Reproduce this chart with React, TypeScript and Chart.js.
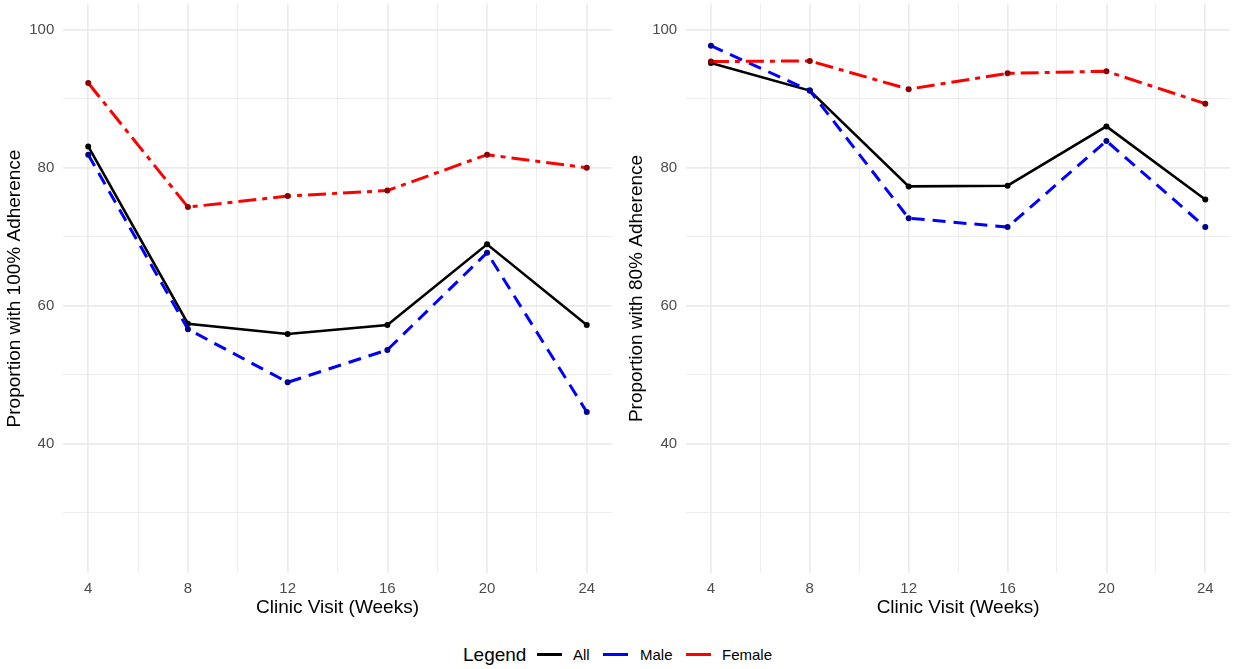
import React, { useEffect, useRef } from "react";
import { Chart, registerables } from "chart.js";

Chart.register(...registerables);

// ---- Data ----
const weeks = [4, 8, 12, 16, 20, 24];
const seriesNames = ["All", "Male", "Female"];

const adh100All = [83.1, 57.4, 55.9, 57.2, 68.9, 57.2];
const adh100Male = [81.9, 56.6, 48.9, 53.6, 67.7, 44.6];
const adh100Female = [92.3, 74.3, 75.9, 76.7, 81.9, 80.0];

const adh80All = [95.2, 91.2, 77.3, 77.4, 86.0, 75.4];
const adh80Male = [97.7, 91.2, 72.7, 71.4, 83.9, 71.4];
const adh80Female = [95.4, 95.5, 91.4, 93.7, 94.0, 89.3];

const xGridTicks = [4, 6, 8, 10, 12, 14, 16, 18, 20, 22, 24];
const xLabelTicks = [4, 8, 12, 16, 20, 24];
const yGridTicks = [30, 40, 50, 60, 70, 80, 90, 100];
const yLabelTicks = [40, 60, 80, 100];

const FONT = '"Liberation Sans", Arial, Helvetica, sans-serif';
const H = 630;
const AREA_BOTTOM = 573;

type PanelProps = {
  all: number[];
  male: number[];
  female: number[];
  yTitle: string;
  width: number;
  areaLeft: number;
  areaRight: number;
  titleX: number;
};

function Panel({ all, male, female, yTitle, width, areaLeft, areaRight, titleX }: PanelProps) {
  const ref = useRef<HTMLCanvasElement | null>(null);

  useEffect(() => {
    if (!ref.current) return;
    const toPts = (arr: number[]) => weeks.map((w, i) => ({ x: w, y: arr[i] }));
    const chart = new Chart(ref.current, {
      type: "line",
      data: {
        datasets: [
          {
            label: seriesNames[0],
            data: toPts(all),
            borderColor: "#000000",
            backgroundColor: "#000000",
            pointBackgroundColor: "#000000",
            pointBorderColor: "#000000",
            borderWidth: 2.6,
            pointRadius: 3,
            pointBorderWidth: 0,
            tension: 0,
            order: 3,
          },
          {
            label: seriesNames[1],
            data: toPts(male),
            borderColor: "#0000FF",
            backgroundColor: "#00008B",
            pointBackgroundColor: "#00008B",
            pointBorderColor: "#00008B",
            borderWidth: 3,
            borderDash: [13, 8],
            pointRadius: 3,
            pointBorderWidth: 0,
            tension: 0,
            order: 2,
          },
          {
            label: seriesNames[2],
            data: toPts(female),
            borderColor: "#FF0000",
            backgroundColor: "#8B0000",
            pointBackgroundColor: "#8B0000",
            pointBorderColor: "#8B0000",
            borderWidth: 3,
            borderDash: [18, 6, 5, 6],
            pointRadius: 3,
            pointBorderWidth: 0,
            tension: 0,
            order: 1,
          },
        ],
      },
      options: {
        animation: false,
        responsive: false,
        maintainAspectRatio: false,
        devicePixelRatio: 1,
        layout: { padding: { left: 0, top: 4, right: width - areaRight, bottom: 0 } },
        plugins: {
          legend: { display: false },
          tooltip: { enabled: false },
        },
        scales: {
          x: {
            type: "linear",
            min: 3,
            max: 25,
            afterBuildTicks: (s: any) => {
              s.ticks = xGridTicks.map((v) => ({ value: v }));
            },
            afterFit: (s: any) => {
              s.height = H - AREA_BOTTOM;
              s.paddingLeft = 0;
              s.paddingRight = 0;
            },
            ticks: {
              autoSkip: false,
              maxRotation: 0,
              padding: 7,
              color: "#4D4D4D",
              font: { family: FONT, size: 15 },
              callback: (v: any) => (xLabelTicks.includes(Number(v)) ? String(v) : ""),
            },
            grid: {
              color: "#EBEBEB",
              lineWidth: (ctx: any) => (xLabelTicks.includes(ctx.tick?.value) ? 1.7 : 0.9),
              drawTicks: false,
            },
            border: { display: false },
            title: {
              display: true,
              text: "Clinic Visit (Weeks)",
              color: "#000000",
              font: { family: FONT, size: 19 },
              padding: { top: 0, bottom: 10.6 },
            },
          },
          y: {
            type: "linear",
            min: 21.25,
            max: 103.75,
            afterBuildTicks: (s: any) => {
              s.ticks = yGridTicks.map((v) => ({ value: v }));
            },
            afterFit: (s: any) => {
              s.width = areaLeft;
              s.paddingTop = 0;
              s.paddingBottom = 0;
            },
            ticks: {
              autoSkip: false,
              padding: 9,
              color: "#4D4D4D",
              font: { family: FONT, size: 15 },
              callback: (v: any) => (yLabelTicks.includes(Number(v)) ? String(v) : ""),
            },
            grid: {
              color: "#EBEBEB",
              lineWidth: (ctx: any) => (yLabelTicks.includes(ctx.tick?.value) ? 1.7 : 0.9),
              drawTicks: false,
            },
            border: { display: false },
            title: {
              display: true,
              text: yTitle,
              color: "#000000",
              font: { family: FONT, size: 19 },
              padding: { top: titleX - 11.4, bottom: 0 },
            },
          },
        },
      },
    } as any);
    return () => chart.destroy();
  }, []);

  return (
    <canvas
      ref={ref}
      width={width}
      height={H}
      style={{ width, height: H, display: "block" }}
    />
  );
}

const legendItems = [
  { name: seriesNames[0], color: "#000000", lineLeft: 537, textLeft: 573 },
  { name: seriesNames[1], color: "#0000FF", lineLeft: 603, textLeft: 640 },
  { name: seriesNames[2], color: "#FF0000", lineLeft: 686, textLeft: 722 },
];

export default function App() {
  useEffect(() => {
    document.body.style.margin = "0";
    document.body.style.background = "#ffffff";
  }, []);

  const legendY = 654;
  return (
    <div style={{ position: "relative", width: 1234, height: 669, background: "#fff", overflow: "hidden" }}>
      <div style={{ position: "absolute", left: 0, top: 0 }}>
        <Panel
          all={adh100All}
          male={adh100Male}
          female={adh100Female}
          yTitle="Proportion with 100% Adherence"
          width={617}
          areaLeft={63.3}
          areaRight={611.7}
          titleX={15}
        />
      </div>
      <div style={{ position: "absolute", left: 620, top: 0 }}>
        <Panel
          all={adh80All}
          male={adh80Male}
          female={adh80Female}
          yTitle="Proportion with 80% Adherence"
          width={614}
          areaLeft={66.2}
          areaRight={611.8}
          titleX={16.7}
        />
      </div>
      <span
        style={{
          position: "absolute",
          left: 463,
          top: legendY,
          transform: "translateY(-50%)",
          fontFamily: FONT,
          fontSize: 19,
          lineHeight: 1,
          color: "#000",
          whiteSpace: "nowrap",
        }}
      >
        Legend
      </span>
      {legendItems.map((it) => (
        <React.Fragment key={it.name}>
          <div
            style={{
              position: "absolute",
              left: it.lineLeft,
              top: legendY - 1.5,
              width: 25,
              height: 3,
              background: it.color,
            }}
          />
          <span
            style={{
              position: "absolute",
              left: it.textLeft,
              top: legendY,
              transform: "translateY(-50%)",
              fontFamily: FONT,
              fontSize: 15,
              lineHeight: 1,
              color: "#000",
              whiteSpace: "nowrap",
            }}
          >
            {it.name}
          </span>
        </React.Fragment>
      ))}
    </div>
  );
}
